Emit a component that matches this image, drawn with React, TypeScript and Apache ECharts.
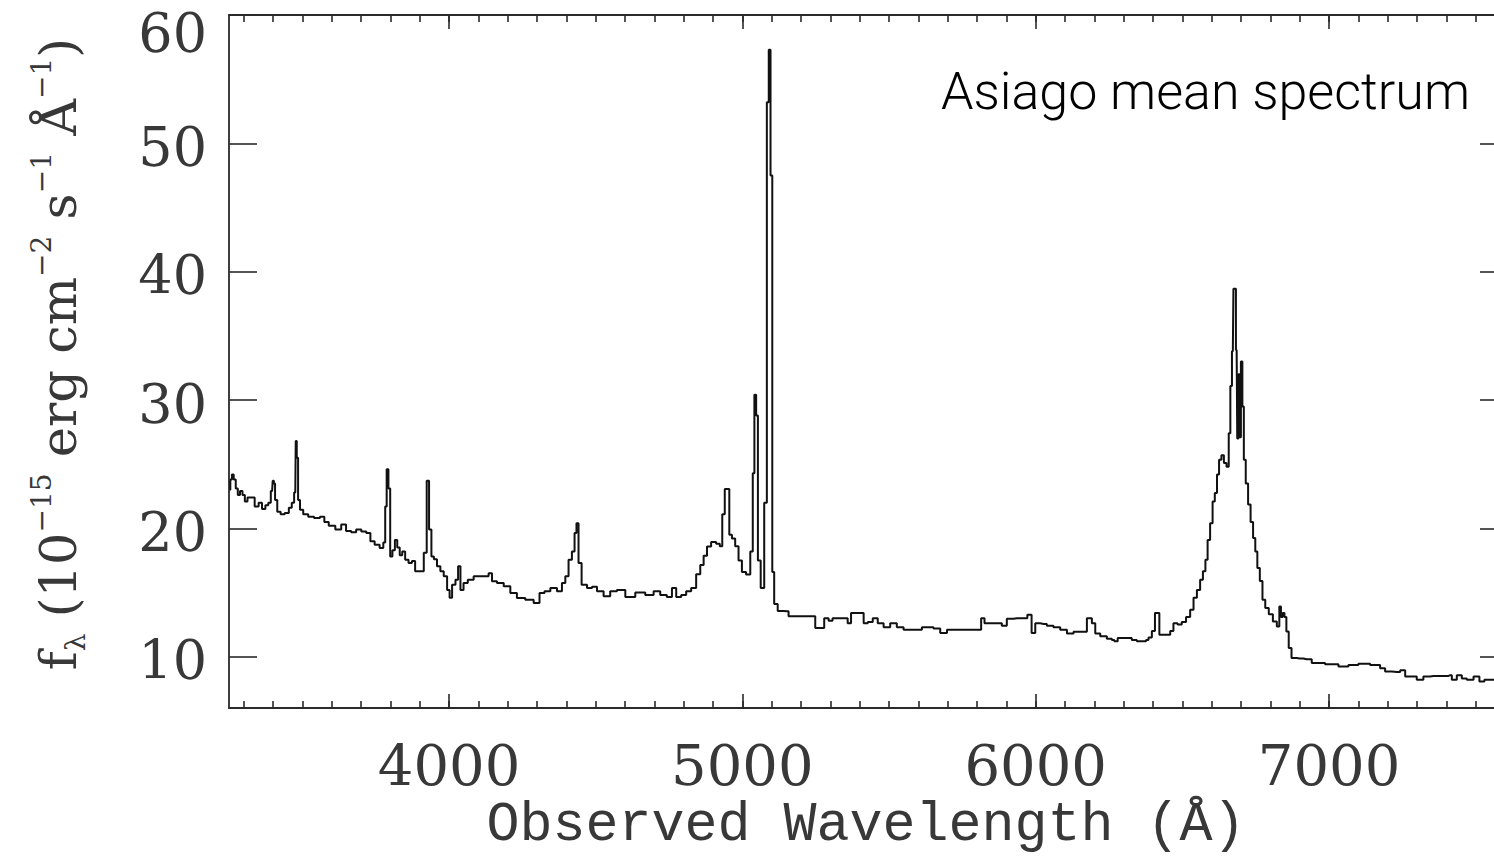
import React, { useEffect, useRef } from "react";
import * as echarts from "echarts";

// Observed wavelength of each spectral bin (Å)
const wavelength = [
  3252, 3257, 3263, 3269, 3277, 3283, 3292, 3300, 3308, 3318, 3330, 3345, 3357, 3368, 3380, 3388,
  3397, 3401, 3405, 3409, 3420, 3432, 3448, 3460, 3468, 3476, 3479, 3483, 3488, 3496, 3510, 3530,
  3550, 3570, 3580, 3600, 3625, 3640, 3658, 3675, 3692, 3710, 3726, 3738, 3755, 3772, 3780, 3785,
  3790, 3797, 3802, 3812, 3819, 3828, 3836, 3845, 3856, 3868, 3879, 3890, 3908, 3920, 3928, 3936,
  3944, 3953, 3965, 3976, 3988, 3999, 4005, 4016, 4028, 4034, 4044, 4055, 4073, 4095, 4129, 4141,
  4152, 4175, 4198, 4220, 4243, 4277, 4300, 4317, 4334, 4357, 4379, 4391, 4402, 4413, 4425, 4431,
  4438, 4445, 4459, 4482, 4493, 4516, 4538, 4561, 4584, 4618, 4652, 4686, 4709, 4731, 4754, 4766,
  4783, 4800, 4817, 4834, 4851, 4862, 4874, 4885, 4902, 4919, 4927, 4936, 4944, 4952, 4959, 4970,
  4981, 4993, 5004, 5021, 5033, 5038, 5044, 5050, 5056, 5069, 5080, 5087, 5093, 5099, 5105, 5112,
  5129, 5152, 5163, 5200, 5243, 5254, 5270, 5288, 5300, 5315, 5340, 5356, 5362, 5379, 5395, 5408,
  5419, 5436, 5453, 5470, 5493, 5515, 5538, 5561, 5590, 5606, 5618, 5640, 5663, 5686, 5709, 5743,
  5780, 5811, 5817, 5834, 5860, 5879, 5890, 5913, 5936, 5964, 5979, 5993, 6004, 6027, 6049, 6072,
  6095, 6118, 6140, 6163, 6186, 6197, 6209, 6231, 6254, 6265, 6271, 6288, 6322, 6333, 6356, 6373,
  6379, 6390, 6402, 6411, 6419, 6424, 6436, 6453, 6464, 6475, 6492, 6504, 6521, 6532, 6544, 6555,
  6566, 6574, 6583, 6589, 6600, 6606, 6615, 6621, 6629, 6637, 6646, 6655, 6661, 6666, 6672, 6676,
  6680, 6685, 6689, 6693, 6697, 6702, 6707, 6712, 6720, 6728, 6737, 6745, 6752, 6759, 6769, 6777,
  6788, 6801, 6816, 6828, 6833, 6839, 6845, 6851, 6858, 6867, 6877, 6901, 6924, 6958, 7015, 7049,
  7083, 7117, 7163, 7185, 7197, 7231, 7254, 7265, 7288, 7310, 7333, 7356, 7401, 7413, 7424, 7447,
  7458, 7481, 7504, 7521, 7538, 7563, 7600,
];

// Mean flux density in each bin (10^-15 erg cm^-2 s^-1 Å^-1)
const flux = [
  23.0, 23.8, 24.2, 23.8, 23.1, 22.6, 22.9, 22.6, 22.1, 22.4, 22.4, 21.7, 22.0, 21.5, 21.8, 22.0,
  22.9, 23.7, 23.5, 22.2, 21.3, 21.1, 21.2, 21.6, 22.0, 22.8, 26.8, 25.5, 22.2, 21.45, 21.1, 20.9,
  20.8, 20.9, 20.5, 20.2, 19.9, 20.3, 19.8, 19.7, 19.9, 19.75, 19.64, 19.0, 18.73, 18.47, 18.9, 21.7,
  24.6, 23.1, 17.8, 18.3, 19.1, 18.5, 17.9, 18.2, 17.55, 17.3, 17.45, 16.65, 16.65, 18.1, 23.7, 19.9,
  17.8, 17.6, 17.04, 16.65, 16.26, 15.2, 14.6, 15.6, 16.0, 17.04, 15.2, 15.74, 16.0, 16.26, 16.26, 16.5,
  15.87, 15.74, 15.48, 14.96, 14.57, 14.44, 14.18, 14.96, 15.09, 15.35, 15.1, 15.74, 16.26, 17.56, 18.2, 19.64,
  20.4, 17.3, 15.6, 15.35, 15.45, 15.09, 14.7, 15.09, 15.2, 14.64, 15.0, 14.8, 15.1, 14.8, 14.64, 15.35,
  14.64, 14.8, 15.1, 15.35, 16.43, 17.15, 17.86, 18.58, 18.94, 18.8, 18.6, 21.1, 23.07, 23.07, 19.5, 19.2,
  18.6, 17.5, 16.6, 16.4, 18.2, 24.3, 30.4, 28.8, 17.5, 15.35, 22.0, 53.2, 57.3, 47.5, 16.6, 14.1,
  13.56, 13.53, 13.14, 13.14, 13.14, 12.24, 12.24, 13.0, 12.8, 13.0, 13.0, 13.0, 12.6, 13.4, 13.4, 13.4,
  12.6, 12.7, 13.0, 12.6, 12.3, 12.6, 12.3, 12.1, 12.1, 12.1, 12.3, 12.3, 12.2, 11.85, 12.1, 12.1,
  12.1, 12.1, 13.0, 12.6, 12.6, 12.6, 12.4, 12.95, 13.0, 13.0, 13.27, 11.85, 12.6, 12.55, 12.4, 12.3,
  12.1, 11.8, 11.95, 11.95, 13.0, 12.6, 11.8, 11.6, 11.4, 11.3, 11.2, 11.45, 11.45, 11.3, 11.2, 11.2,
  11.3, 11.5, 12.0, 13.4, 13.4, 11.7, 11.7, 11.7, 12.0, 12.6, 12.5, 12.7, 13.1, 13.66, 14.6, 15.2,
  16.0, 16.65, 17.56, 19.1, 20.4, 22.1, 22.76, 24.2, 25.35, 25.7, 25.1, 24.8, 27.4, 31.1, 33.8, 38.66,
  38.66, 33.9, 27.0, 32.0, 27.1, 33.0, 29.5, 25.35, 23.5, 21.85, 20.5, 19.25, 18.2, 16.9, 15.9, 14.44,
  13.8, 13.3, 12.75, 12.36, 13.9, 13.1, 13.4, 13.1, 11.97, 10.68, 9.9, 9.85, 9.8, 9.5, 9.4, 9.24,
  9.35, 9.45, 9.35, 9.1, 8.85, 8.8, 8.95, 8.46, 8.46, 8.2, 8.46, 8.5, 8.5, 8.55, 8.2, 8.55,
  8.3, 8.2, 8.46, 8.07, 8.2, 8.2, 8.2,
];

// Axis ranges and tick positions
const xRange = [3250, 7610];
const yRange = [6, 60];
const xMajorTicks = [4000, 5000, 6000, 7000];
const xMinorTicks: number[] = [];
for (let v = 3300; v <= 7600; v += 100) xMinorTicks.push(v);
const yMajorTicks = [10, 20, 30, 40, 50, 60];

const xTitle = "Observed Wavelength (Å)";
const panelTitle = "Asiago mean spectrum";

const INK = "#2a2a2a";
const LABEL = "#383838";
const SERIF = '"DejaVu Serif", serif';

function frameAxis(position: "top" | "bottom", ticks: number[], len: number, withLine: boolean, withLabels: boolean) {
  return {
    type: "value",
    position,
    min: xRange[0],
    max: xRange[1],
    axisLine: { show: withLine, onZero: false, lineStyle: { color: INK, width: 1.8 } },
    axisTick: { show: true, inside: true, length: len, customValues: ticks, lineStyle: { color: INK, width: 1.6 } },
    axisLabel: withLabels
      ? {
          show: true,
          customValues: ticks,
          margin: 36,
          fontFamily: SERIF,
          fontSize: 56,
          lineHeight: 42,
          color: LABEL,
          formatter: (v: number) => String(v),
        }
      : { show: false },
    splitLine: { show: false },
  };
}

function yFrameAxis(position: "left" | "right", withLabels: boolean) {
  return {
    type: "value",
    position,
    min: yRange[0],
    max: yRange[1],
    axisLine: { show: true, onZero: false, lineStyle: { color: INK, width: 1.8 } },
    axisTick: { show: true, inside: true, length: 28, customValues: yMajorTicks, lineStyle: { color: INK, width: 1.6 } },
    axisLabel: withLabels
      ? {
          show: true,
          customValues: yMajorTicks,
          margin: 22,
          // the topmost value sits lower so it stays below the frame's upper edge
          formatter: (v: number) => (v === yRange[1] ? `{top|${v}}` : `{n|${v}}`),
          rich: {
            n: { fontFamily: SERIF, fontSize: 54, lineHeight: 54, color: LABEL, padding: [8, 0, 0, 0] },
            top: { fontFamily: SERIF, fontSize: 54, lineHeight: 54, color: LABEL, padding: [36, 0, 0, 0] },
          },
        }
      : { show: false },
    splitLine: { show: false },
  };
}

export default function App() {
  const ref = useRef<HTMLDivElement>(null);

  useEffect(() => {
    if (!ref.current) return;
    const chart = echarts.init(ref.current, undefined, { renderer: "svg" });
    const points = wavelength.map((w, i) => [w, flux[i]]);

    chart.setOption({
      animation: false,
      backgroundColor: "#ffffff",
      grid: { left: 229, top: 15, width: 1279, height: 693, containLabel: false, outerBoundsMode: "none" },
      xAxis: [
        frameAxis("bottom", xMajorTicks, 14, true, true),
        frameAxis("bottom", xMinorTicks, 7, false, false),
        frameAxis("top", xMajorTicks, 14, true, false),
        frameAxis("top", xMinorTicks, 7, false, false),
      ],
      yAxis: [yFrameAxis("left", true), yFrameAxis("right", false)],
      series: [
        {
          type: "line",
          xAxisIndex: 0,
          yAxisIndex: 0,
          data: points,
          step: "middle",
          symbol: "none",
          lineStyle: { color: "#111", width: 2 },
          silent: true,
        },
      ],
      graphic: [
        {
          type: "text",
          x: 866,
          y: 825,
          style: {
            text: xTitle,
            fontFamily: '"Liberation Mono", monospace',
            fontSize: 55,
            lineHeight: 50,
            fill: LABEL,
            align: "center",
            textAlign: "center",
            verticalAlign: "middle",
            textVerticalAlign: "middle",
          },
        },
        {
          type: "text",
          x: 1470,
          y: 91,
          style: {
            text: panelTitle,
            fontFamily: "Roboto, sans-serif",
            fontWeight: 300,
            fontSize: 52,
            fill: "#000",
            align: "right",
            textAlign: "right",
            verticalAlign: "middle",
            textVerticalAlign: "middle",
          },
        },
        {
          type: "text",
          x: 58,
          y: 354,
          rotation: Math.PI / 2,
          style: {
            text: "{b|f}{sub|λ}{b| (10}{sup|−15}{b| erg cm}{sup|−2}{b| s}{sup|−1}{b| Å}{sup|−1}{b|)}",
            fill: LABEL,
            align: "center",
            textAlign: "center",
            verticalAlign: "middle",
            textVerticalAlign: "middle",
            rich: {
              b: { fontFamily: SERIF, fontSize: 51, lineHeight: 62, fill: LABEL, color: LABEL },
              sup: { fontFamily: SERIF, fontSize: 28, lineHeight: 22, verticalAlign: "top", fill: LABEL, color: LABEL },
              sub: { fontFamily: SERIF, fontSize: 28, lineHeight: 10, verticalAlign: "bottom", fill: LABEL, color: LABEL },
            },
          },
        },
      ],
    });

    return () => chart.dispose();
  }, []);

  return (
    <div style={{ position: "fixed", left: 0, top: 0, width: "100vw", height: "100vh", overflow: "hidden", background: "#fff" }}>
      <div ref={ref} style={{ width: 1520, height: 857 }} />
    </div>
  );
}
